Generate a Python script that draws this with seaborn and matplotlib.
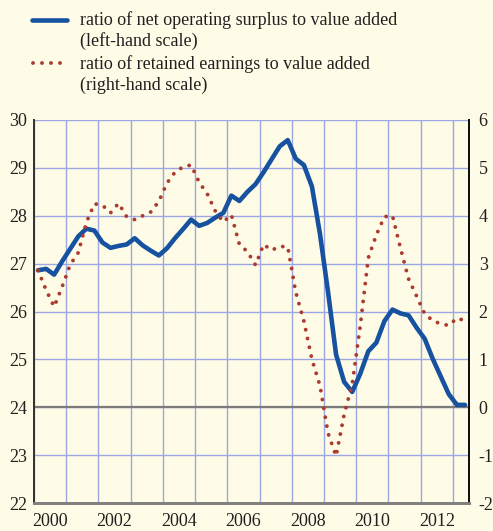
import numpy as np
import pandas as pd
import seaborn as sns
import matplotlib.pyplot as plt
from matplotlib.lines import Line2D

# quarterly observations, 2000Q1 - 2013Q2 (plotted at mid-quarter)
quarters = [2000.125 + 0.25 * i for i in range(54)]

# ratio of net operating surplus to value added (left-hand scale)
surplus = [26.86, 26.89, 26.77, 27.05, 27.31, 27.57, 27.73, 27.69, 27.44, 27.33,
           27.37, 27.40, 27.53, 27.38, 27.27, 27.17, 27.32, 27.53, 27.72, 27.92,
           27.79, 27.85, 27.96, 28.06, 28.42, 28.31, 28.50, 28.66, 28.91, 29.18,
           29.45, 29.58, 29.19, 29.06, 28.61, 27.62, 26.41, 25.10, 24.53, 24.32,
           24.70, 25.17, 25.35, 25.80, 26.04, 25.96, 25.92, 25.66, 25.43, 25.01,
           24.64, 24.27, 24.05, 24.05]

# ratio of retained earnings to value added (right-hand scale)
retained = [2.86, 2.45, 2.10, 2.52, 2.98, 3.23, 3.86, 4.25, 4.22, 4.06,
            4.26, 3.98, 3.92, 4.00, 4.08, 4.30, 4.68, 4.91, 5.02, 5.06,
            4.70, 4.46, 4.10, 3.87, 4.02, 3.40, 3.25, 2.97, 3.40, 3.28,
            3.36, 3.35, 2.40, 1.80, 1.00, 0.45, -0.54, -1.02, -0.15, 0.48,
            1.70, 3.12, 3.60, 3.98, 4.00, 3.32, 2.68, 2.32, 1.95, 1.81,
            1.74, 1.71, 1.86, 1.81]

year_ticks = list(range(2000, 2014))
year_labels = ['2000', '2002', '2004', '2006', '2008', '2010', '2012']
left_ticks = list(range(22, 31))
right_ticks = list(range(-2, 7))

label_surplus = 'ratio of net operating surplus to value added\n(left-hand scale)'
label_retained = 'ratio of retained earnings to value added\n(right-hand scale)'

df = pd.DataFrame({'quarter': quarters, 'surplus': surplus, 'retained': retained})

bg = '#fefce6'
grid_col = '#9ba6e2'
blue = '#1652a0'
red = '#ad3a31'
text_col = '#231f20'
dots = (0, (0.01, 2.3))

sns.set_style('white', {'axes.facecolor': bg, 'figure.facecolor': bg})
plt.rcParams['font.family'] = ['Liberation Serif', 'DejaVu Serif']

fig = plt.figure(figsize=(4.93, 5.31), dpi=100)
fig.patch.set_facecolor(bg)
ax = fig.add_axes([34 / 493, 28 / 531, 435 / 493, 383 / 531])
ax.set_facecolor(bg)

ax.set_xlim(2000.03, 2013.5)
ax.set_ylim(22, 30)

sns.lineplot(data=df, x='quarter', y='surplus', ax=ax, color=blue, lw=3.3,
             solid_joinstyle='round', zorder=4)

ax2 = ax.twinx()
ax2.set_ylim(-2, 6)
ax2.patch.set_visible(False)
sns.lineplot(data=df, x='quarter', y='retained', ax=ax2, color=red, lw=2.8,
             linestyle=dots, dash_capstyle='round', zorder=3)

# grid and ticks
ax.set_xticks(year_ticks)
ax.set_xticklabels([])
ax.set_xticks([int(y) + 0.5 for y in year_labels], minor=True)
ax.set_xticklabels(year_labels, minor=True, fontsize=13, color=text_col)
ax.tick_params(axis='x', which='major', direction='out', length=5, width=1.3,
               color='#222222')
ax.tick_params(axis='x', which='minor', length=0, pad=7)
ax.set_yticks(left_ticks)
ax.set_yticklabels([str(t) for t in left_ticks], fontsize=13, color=text_col)
ax.tick_params(axis='y', length=0, pad=5)
ax.grid(True, which='major', color=grid_col, lw=1.0)
ax.set_axisbelow(True)
ax.axhline(24, color='#7a7a7a', lw=1.6, zorder=2)

ax2.set_yticks(right_ticks)
ax2.set_yticklabels([str(t) for t in right_ticks], fontsize=13, color=text_col)
ax2.tick_params(axis='y', length=0, pad=7)
ax2.set_xlabel('')
ax2.set_ylabel('')
ax.set_xlabel('')
ax.set_ylabel('')

for a in (ax, ax2):
    a.spines['top'].set_visible(False)
    a.spines['left'].set_color('#333333')
    a.spines['left'].set_linewidth(1.3)
    a.spines['right'].set_color('#111111')
    a.spines['right'].set_linewidth(1.4)
    a.spines['bottom'].set_color('#808080')
    a.spines['bottom'].set_linewidth(2.0)

# legend drawn at top of figure
fig.add_artist(Line2D([32 / 493, 67 / 493], [1 - 19.5 / 531] * 2, color=blue, lw=3.3))
fig.add_artist(Line2D([33 / 493, 66 / 493], [1 - 63 / 531] * 2, color=red, lw=2.8,
                      linestyle=dots, dash_capstyle='round'))
fig.text(80 / 493, 1 - 31 / 531, label_surplus, fontsize=13, color=text_col,
         va='center', ha='left', linespacing=1.22)
fig.text(80 / 493, 1 - 74.5 / 531, label_retained, fontsize=13, color=text_col,
         va='center', ha='left', linespacing=1.22)

plt.savefig('out.png', dpi=100, facecolor=bg)
